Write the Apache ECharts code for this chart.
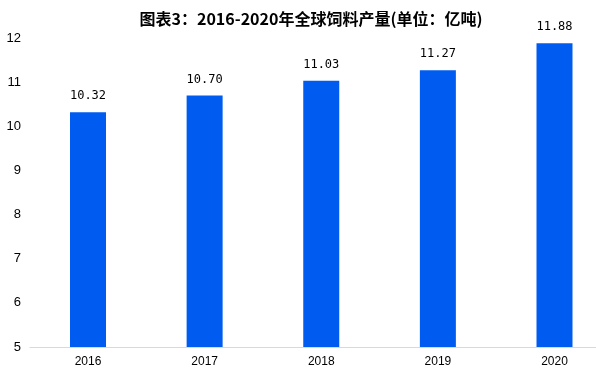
<!DOCTYPE html>
<html><head><meta charset="utf-8">
<script src="https://cdn.jsdelivr.net/npm/echarts@6/dist/echarts.min.js"></script>
<style>html,body{margin:0;padding:0;background:#fff}#c{width:596px;height:374px}</style>
</head><body><div id="c"></div>
<script>
var categories = ['2016', '2017', '2018', '2019', '2020'];
var values = [10.32, 10.70, 11.03, 11.27, 11.88];
var yTicks = [5, 6, 7, 8, 9, 10, 11, 12];
var titleText = '图表3：2016-2020年全球饲料产量(单位：亿吨)';

var chart = echarts.init(document.getElementById('c'));
chart.setOption({
  animation: false,
  backgroundColor: '#fff',
  title: {
    text: titleText, left: 306, top: 6, textAlign: 'center',
    textStyle: { fontSize: 16, fontWeight: 'bold', color: '#000', fontFamily: '"Noto Sans CJK SC", sans-serif' }
  },
  grid: [
    { left: 88, right: 41.5, top: 38, bottom: 27, containLabel: false },
    { left: 30, right: 0, top: 38, bottom: 27, containLabel: false }
  ],
  xAxis: [{
    type: 'category', data: categories, gridIndex: 0, boundaryGap: false,
    axisLine: { show: false },
    axisTick: { show: false },
    axisLabel: { color: '#000', fontSize: 12, margin: 9, fontFamily: 'Arial, "Liberation Sans", sans-serif' }
  }, {
    type: 'category', data: categories, gridIndex: 1,
    axisLine: { show: true, lineStyle: { color: '#d9d9d9', width: 1 } },
    axisTick: { show: false }, axisLabel: { show: false }
  }],
  yAxis: [{
    type: 'value', gridIndex: 0, min: yTicks[0], max: yTicks[yTicks.length - 1], interval: 1,
    axisLine: { show: false }, axisTick: { show: false }, splitLine: { show: false },
    axisLabel: { color: '#000', fontSize: 13, margin: 67, fontFamily: 'Arial, "Liberation Sans", sans-serif' }
  }, {
    type: 'value', gridIndex: 1, min: yTicks[0], max: yTicks[yTicks.length - 1], interval: 1, show: false
  }],
  series: [{
    type: 'bar', data: values, barWidth: 36, xAxisIndex: 0, yAxisIndex: 0,
    itemStyle: { color: '#005cf0' },
    label: {
      show: true, position: 'top', distance: 10, color: '#000', fontSize: 12,
      fontFamily: '"DejaVu Sans Mono", monospace',
      formatter: function (p) { return p.value.toFixed(2); }
    }
  }]
});
</script></body></html>
